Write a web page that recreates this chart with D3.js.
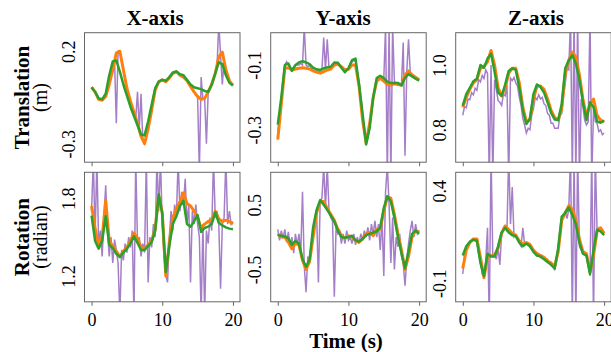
<!DOCTYPE html>
<html>
<head>
<meta charset="utf-8">
<script src="https://cdn.jsdelivr.net/npm/d3@7"></script>
<style>
  body { margin: 0; background: #fff; }
  svg { display: block; }
</style>
</head>
<body>
<div id="chart"></div>
<script>
// time grids (s)
const tSmooth = d3.range(0, 20.001, 0.5);   // orange / green samples
const tRaw = d3.range(0, 20.001, 0.25);     // purple samples

const colTitles = ["X-axis", "Y-axis", "Z-axis"];
const rowTitles = [["Translation", "(m)"], ["Rotation", "(radian)"]];
const xTicks = [0, 10, 20];

// y ranges and ticks per panel (row-major)
const yDomains = [[-0.4, 0.3], [-0.4, 0.0], [0.7, 1.1], [1.0, 2.0], [-1, 1], [-0.2, 0.5]];
const yTicks = [[-0.3, 0.2], [-0.3, -0.1], [0.8, 1.0], [1.2, 1.8], [-0.5, 0.5], [-0.1, 0.4]];

// translation X
const txPurple = [0.005,-0.005,-0.02,-0.04,-0.06,-0.065,-0.065,-0.055,-0.045,-0.01,0.02,0.06,0.1,0.15,-0.19,0.2,0.2,0.15,0.1,0.05,0.0,-0.04,-0.07,-0.1,-0.13,-0.16,-0.02,-0.22,-0.03,-0.28,-0.3,-0.26,-0.22,-0.17,-0.12,-0.06,-0.01,0.02,0.035,0.04,0.045,0.04,0.035,0.045,0.055,0.07,0.08,0.085,0.09,0.08,0.07,0.065,0.06,0.05,0.04,0.025,0.01,-0.005,-0.02,-0.035,-0.045,-0.45,0.06,-0.06,-0.055,-0.3,-0.02,0.0,0.02,0.05,0.08,0.12,0.35,0.18,0.02,0.15,0.1,0.07,0.04,0.025,0.015];
const txOrange = [0.005,-0.02,-0.06,-0.065,-0.045,0.02,0.1,0.19,0.2,0.1,0.0,-0.07,-0.13,-0.19,-0.26,-0.3,-0.22,-0.12,-0.01,0.035,0.045,0.035,0.055,0.08,0.09,0.07,0.06,0.04,0.01,-0.02,-0.045,-0.06,-0.055,-0.02,0.02,0.08,0.17,0.195,0.1,0.04,0.015];
const txGreen = [0.005,-0.02,-0.055,-0.06,-0.03,0.07,0.145,0.15,0.09,0.02,-0.04,-0.1,-0.15,-0.2,-0.25,-0.255,-0.18,-0.09,0.0,0.035,0.045,0.04,0.06,0.085,0.09,0.075,0.07,0.045,0.02,0.005,0.0,-0.005,-0.015,-0.02,0.02,0.08,0.14,0.13,0.07,0.03,0.015];

// translation Y
const tyPurple = [-0.31,-0.26,-0.21,-0.15,-0.1,-0.09,-0.1,-0.11,-0.115,-0.105,-0.1,-0.1,-0.1,-0.095,-0.1,0.02,-0.1,-0.105,-0.1,-0.11,-0.115,-0.12,-0.118,-0.12,-0.12,-0.115,-0.015,-0.115,-0.02,-0.11,-0.105,-0.1,-0.095,-0.095,-0.095,-0.1,-0.105,-0.11,-0.118,-0.115,-0.11,-0.1,-0.09,-0.085,-0.09,-0.12,-0.16,-0.21,-0.26,-0.31,-0.34,-0.32,-0.29,-0.24,-0.2,-0.17,-0.145,-0.135,-0.135,-0.14,-0.145,0.02,-0.45,0.02,-0.45,0.02,-0.15,-0.155,-0.158,-0.16,-0.16,-0.03,-0.38,-0.12,-0.02,-0.125,-0.13,-0.135,-0.14,-0.145,-0.147];
const tyOrange = [-0.33,-0.22,-0.11,-0.108,-0.115,-0.112,-0.11,-0.108,-0.11,-0.112,-0.118,-0.122,-0.125,-0.12,-0.115,-0.112,-0.1,-0.097,-0.105,-0.115,-0.113,-0.1,-0.1,-0.165,-0.27,-0.34,-0.28,-0.2,-0.15,-0.14,-0.15,-0.16,-0.162,-0.158,-0.16,-0.162,-0.13,-0.118,-0.13,-0.138,-0.145];
const tyGreen = [-0.284,-0.2,-0.1,-0.095,-0.118,-0.1,-0.092,-0.088,-0.092,-0.097,-0.108,-0.113,-0.115,-0.11,-0.107,-0.105,-0.092,-0.093,-0.108,-0.122,-0.11,-0.085,-0.08,-0.16,-0.25,-0.345,-0.295,-0.2,-0.14,-0.133,-0.14,-0.152,-0.155,-0.155,-0.155,-0.163,-0.14,-0.128,-0.135,-0.142,-0.148];

// translation Z
const tzPurple = [0.845,0.872,0.868,0.895,0.893,0.915,0.908,0.928,0.922,0.955,0.948,0.968,0.958,0.985,0.975,0.65,1.0,0.65,0.955,0.925,0.89,0.885,0.875,0.91,0.905,0.94,0.65,0.96,0.952,0.962,0.945,0.935,0.9,0.875,0.835,0.815,0.79,0.805,0.8,0.845,0.865,0.9,0.893,0.908,0.895,0.9,0.88,0.875,0.85,0.845,0.82,0.82,0.805,0.805,0.805,0.845,0.85,0.905,0.945,0.99,0.985,1.15,0.65,1.15,0.65,1.15,0.65,0.895,0.87,0.83,0.815,0.825,1.15,0.65,0.865,0.825,0.82,0.795,0.8,0.785,0.79];
const tzOrange = [0.87,0.9,0.925,0.945,0.955,0.99,0.995,1.01,1.045,1.0,0.93,0.905,0.93,0.975,0.99,0.99,0.945,0.87,0.825,0.83,0.895,0.935,0.935,0.925,0.895,0.86,0.838,0.83,0.865,0.975,1.015,1.04,1.025,0.97,0.895,0.84,0.88,0.895,0.845,0.83,0.825];
const tzGreen = [0.875,0.91,0.93,0.95,0.958,1.0,0.992,1.02,1.035,0.98,0.915,0.905,0.94,0.982,0.99,0.985,0.93,0.86,0.818,0.835,0.91,0.94,0.932,0.915,0.885,0.852,0.832,0.83,0.88,0.99,1.015,1.03,1.005,0.955,0.885,0.83,0.885,0.87,0.826,0.822,0.828];

// rotation X
const rxPurple = [1.7,2.1,1.5,2.1,1.45,1.55,1.35,1.65,1.9,1.55,1.35,1.5,1.3,1.48,1.4,1.3,0.9,1.4,1.32,1.45,1.38,1.5,1.42,1.55,0.9,2.1,1.45,1.5,1.35,1.45,1.38,2.1,1.15,1.5,1.42,1.6,1.5,2.1,1.7,2.1,1.6,1.35,1.2,1.15,1.5,1.7,1.55,1.75,1.65,2.1,1.7,1.85,1.75,1.95,1.6,1.75,1.15,1.7,1.6,1.75,1.6,1.5,0.9,1.6,0.9,1.55,1.45,1.65,1.55,2.1,1.65,1.7,1.6,1.1,1.6,1.65,2.1,1.6,1.7,1.6,1.62];
const rxOrange = [1.74,1.57,1.43,1.5,1.78,1.47,1.43,1.39,1.35,1.39,1.42,1.47,1.53,1.49,1.42,1.41,1.44,1.47,1.56,1.82,1.69,1.2,1.46,1.65,1.72,1.77,1.84,1.76,1.74,1.7,1.65,1.57,1.6,1.62,1.63,1.7,1.64,1.62,1.63,1.62,1.6];
const rxGreen = [1.665,1.47,1.41,1.47,1.66,1.44,1.415,1.37,1.345,1.38,1.41,1.45,1.505,1.455,1.4,1.4,1.43,1.46,1.55,1.83,1.68,1.23,1.43,1.6,1.66,1.74,1.78,1.6,1.58,1.62,1.67,1.54,1.57,1.58,1.6,1.69,1.61,1.59,1.575,1.565,1.56];

// rotation Y
const ryPurple = [0.12,-0.05,0.1,-0.02,0.12,-0.08,0.08,-0.15,0.0,-0.25,0.05,-0.12,0.05,-0.25,0.7,-0.45,-0.85,-0.3,-0.4,-0.1,0.05,0.25,0.35,-0.7,0.55,0.6,1.1,0.45,1.1,0.4,0.3,0.25,-0.92,0.15,0.05,0.1,-0.1,0.05,-0.1,0.1,-0.05,0.0,-0.1,0.05,-0.12,0.0,-0.1,0.05,-0.05,0.1,0.0,0.15,-0.05,0.2,0.05,0.25,0.0,0.2,-0.2,0.3,-0.6,0.7,1.1,0.5,-0.4,0.3,-0.5,0.0,-0.15,0.05,-0.3,-0.4,-0.75,-0.35,-0.1,0.1,0.25,0.0,0.2,0.05,0.1];
const ryOrange = [0.05,0.0,0.0,-0.08,-0.18,-0.1,-0.12,-0.36,-0.5,-0.38,0.0,0.38,0.55,0.55,0.44,0.35,0.26,0.12,0.02,-0.02,0.02,0.0,-0.06,-0.08,-0.03,0.05,0.07,0.02,0.12,0.12,0.4,0.62,0.6,0.35,0.05,-0.2,-0.5,-0.3,0.0,0.1,0.08];
const ryGreen = [0.03,0.02,0.01,-0.02,-0.12,-0.06,-0.1,-0.34,-0.46,-0.35,0.15,0.42,0.57,0.5,0.42,0.33,0.24,0.1,0.0,-0.01,0.0,0.02,-0.05,-0.07,-0.03,0.03,0.05,0.07,0.09,0.15,0.45,0.63,0.55,0.3,0.0,-0.25,-0.48,-0.22,0.05,0.1,0.05];

// rotation Z
const rzPurple = [-0.05,0.05,0.09,0.11,0.12,0.13,0.14,0.13,0.12,0.06,0.02,-0.05,-0.06,0.02,0.2,-0.3,0.6,0.04,0.06,0.03,0.09,0.0,0.17,0.2,0.21,0.18,0.6,0.22,0.42,0.15,0.16,0.14,0.12,0.1,0.2,0.11,0.12,0.11,0.1,0.09,0.07,0.06,0.05,0.06,0.04,0.05,0.03,0.02,0.03,0.01,0.0,0.0,-0.03,0.02,0.08,0.15,0.24,0.27,0.29,0.25,0.3,0.6,-0.3,0.6,-0.3,0.6,0.1,0.08,0.06,0.07,0.05,0.02,-0.06,0.6,-0.3,0.6,0.18,0.2,0.19,0.18,0.17];
const rzOrange = [-0.02,0.08,0.12,0.14,0.14,0.04,-0.07,0.04,0.05,0.05,0.09,0.17,0.21,0.19,0.17,0.16,0.13,0.11,0.12,0.11,0.08,0.06,0.05,0.04,0.02,0.01,-0.01,0.07,0.24,0.28,0.32,0.3,0.24,0.14,0.07,0.06,-0.04,0.05,0.18,0.2,0.17];
const rzGreen = [0.05,0.1,0.125,0.135,0.13,0.01,-0.06,0.06,0.045,0.045,0.1,0.175,0.2,0.175,0.16,0.155,0.12,0.1,0.115,0.1,0.07,0.05,0.045,0.03,0.015,0.0,-0.02,0.09,0.26,0.28,0.31,0.27,0.22,0.12,0.06,0.05,-0.05,0.08,0.19,0.18,0.16];

const panels = [
  { purple: txPurple, orange: txOrange, green: txGreen },
  { purple: tyPurple, orange: tyOrange, green: tyGreen },
  { purple: tzPurple, orange: tzOrange, green: tzGreen },
  { purple: rxPurple, orange: rxOrange, green: rxGreen },
  { purple: ryPurple, orange: ryOrange, green: ryGreen },
  { purple: rzPurple, orange: rzOrange, green: rzGreen },
];

// pick an installed Times-like face (falls back to generic serif)
function pickFont(cands) {
  const ctx = document.createElement("canvas").getContext("2d");
  const s = "Translation 0.123 X-axis";
  ctx.font = "20px monospace";
  const base = ctx.measureText(s).width;
  for (const c of cands) {
    ctx.font = `20px "${c}", monospace`;
    if (Math.abs(ctx.measureText(s).width - base) > 0.5) return `"${c}", serif`;
  }
  return "serif";
}
const FONT = pickFont(["Liberation Serif", "Times New Roman", "Times", "Nimbus Roman", "TeX Gyre Termes", "FreeSerif", "Noto Serif", "DejaVu Serif"]);

// layout
const W = 611, H = 352;
const colLeft = [84.5, 270.7, 455.7];
const rowTop = [32.7, 172.3];
const pw = 155.5, ph = 129.5;
const titleX = [155, 343, 536];

const svg = d3.select("#chart").append("svg")
  .attr("width", W).attr("height", H)
  .style("font-family", FONT);

const defs = svg.append("defs");

panels.forEach((p, i) => {
  const r = Math.floor(i / 3), c = i % 3;
  const g = svg.append("g")
    .attr("transform", `translate(${colLeft[c]},${rowTop[r]})`);

  const x = d3.scaleLinear().domain([-1, 21]).range([0, pw]);
  const y = d3.scaleLinear().domain(yDomains[i]).range([ph, 0]);

  defs.append("clipPath").attr("id", "clip" + i)
    .append("rect").attr("width", pw).attr("height", ph);

  const plot = g.append("g").attr("clip-path", `url(#clip${i})`);

  const lineRaw = d3.line().x((d, k) => x(tRaw[k])).y(d => y(d));
  const lineSmooth = d3.line().x((d, k) => x(tSmooth[k])).y(d => y(d));

  plot.append("path").datum(p.purple)
    .attr("d", lineRaw)
    .attr("fill", "none")
    .attr("stroke", "#9467bd")
    .attr("stroke-opacity", 0.85)
    .attr("stroke-width", 1.5);

  plot.append("path").datum(p.orange)
    .attr("d", lineSmooth)
    .attr("fill", "none")
    .attr("stroke", "#ff7f0e")
    .attr("stroke-width", 3)
    .attr("stroke-linejoin", "round");

  plot.append("path").datum(p.green)
    .attr("d", lineSmooth)
    .attr("fill", "none")
    .attr("stroke", "#2ca02c")
    .attr("stroke-width", 2.5)
    .attr("stroke-linejoin", "round");

  // frame
  g.append("rect")
    .attr("width", pw).attr("height", ph)
    .attr("fill", "none")
    .attr("stroke", "#666")
    .attr("stroke-width", 1);

  // x axis ticks
  const xa = g.append("g")
    .attr("transform", `translate(0,${ph})`)
    .call(d3.axisBottom(x).tickValues(xTicks).tickSize(4).tickPadding(7).tickFormat(d3.format("d")));
  xa.attr("font-family", null).attr("font-size", null);
  xa.select(".domain").remove();
  xa.selectAll(".tick line").attr("stroke", "#666");
  xa.selectAll("text").style("font-size", "18px").attr("fill", "#000");
  if (r === 0) xa.selectAll("text").remove();

  // y axis labels (rotated, no tick marks)
  const ya = g.append("g")
    .call(d3.axisLeft(y).tickValues(yTicks[i]).tickSize(0));
  ya.attr("font-family", null).attr("font-size", null);
  ya.select(".domain").remove();
  ya.selectAll(".tick text")
    .attr("x", 0).attr("y", -10).attr("dy", null)
    .attr("text-anchor", "middle")
    .attr("transform", "rotate(-90)")
    .style("font-size", "18px").attr("fill", "#000")
    .text(d => d3.format(".1f")(d).replace("−", "-"));
});

// column titles
colTitles.forEach((t, c) => {
  svg.append("text")
    .attr("x", titleX[c]).attr("y", 25)
    .attr("text-anchor", "middle")
    .style("font-size", "21px").style("font-weight", "bold")
    .text(t);
});

// row titles
rowTitles.forEach((t, r) => {
  const cy = rowTop[r] + ph / 2;
  svg.append("text")
    .attr("transform", `translate(29,${cy}) rotate(-90)`)
    .attr("text-anchor", "middle")
    .style("font-size", "21px").style("font-weight", "bold")
    .text(t[0]);
  svg.append("text")
    .attr("transform", `translate(47,${cy}) rotate(-90)`)
    .attr("text-anchor", "middle")
    .style("font-size", "20px")
    .text(t[1]);
});

// x label
svg.append("text")
  .attr("x", 346).attr("y", 348)
  .attr("text-anchor", "middle")
  .style("font-size", "21px").style("font-weight", "bold")
  .text("Time (s)");
</script>
</body>
</html>
